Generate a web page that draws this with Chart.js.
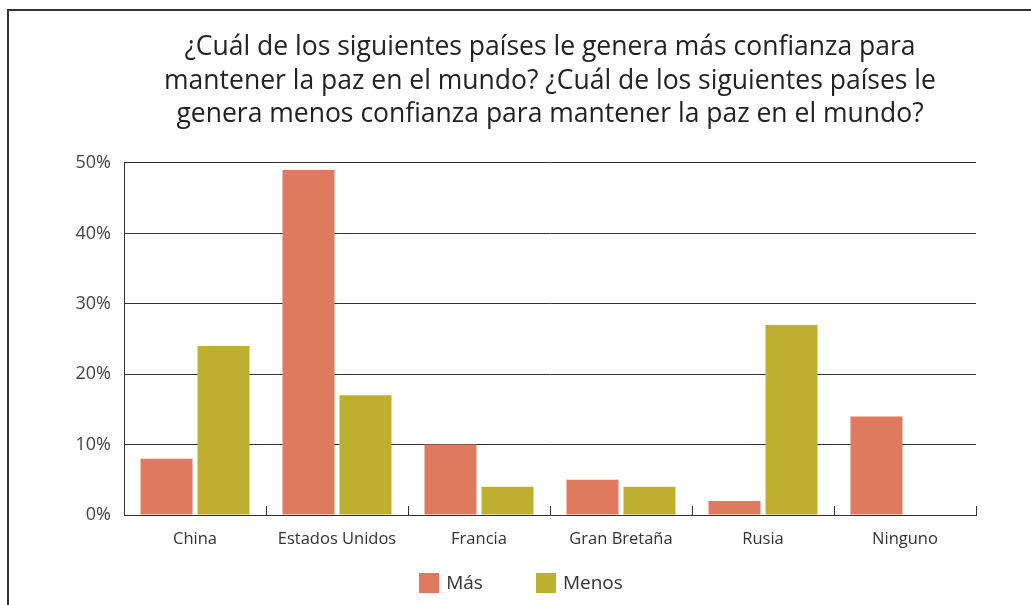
<!DOCTYPE html>
<html>
<head>
<meta charset="utf-8">
<script src="https://cdn.jsdelivr.net/npm/chart.js@4.4.1/dist/chart.umd.min.js"></script>
<style>
  html, body { margin: 0; padding: 0; background: #fff; }
  #wrap { position: relative; width: 1031px; height: 605px; }
  #frame { position: absolute; left: 7px; top: 9px; right: 0; bottom: 0; border-left: 2px solid #333; border-top: 2px solid #333; pointer-events: none; }
  canvas { position: absolute; left: 0; top: 0; }
</style>
</head>
<body>
<div id="wrap">
  <canvas id="c" width="1031" height="605"></canvas>
  <div id="frame"></div>
</div>
<script>
const titleLines = [
  "¿Cuál de los siguientes países le genera más confianza para",
  "mantener la paz en el mundo? ¿Cuál de los siguientes países le",
  "genera menos confianza para mantener la paz en el mundo?"
];
const categories = ["China", "Estados Unidos", "Francia", "Gran Bretaña", "Rusia", "Ninguno"];
const seriesNames = ["Más", "Menos"];
const masValues = [8, 49, 10, 5, 2, 14];
const menosValues = [24, 17, 4, 4, 27, 0];
const yTicks = [0, 10, 20, 30, 40, 50];
const colors = ["#DF7A5E", "#BFAF30"];
const FONT = "'Open Sans', 'Noto Sans', sans-serif";

const innerTicks = {
  id: 'innerTicks',
  afterDatasetsDraw(chart) {
    const xs = chart.scales.x, area = chart.chartArea, ctx = chart.ctx;
    const n = categories.length;
    const w = (area.right - area.left) / n;
    ctx.save();
    ctx.strokeStyle = '#333';
    ctx.lineWidth = 1;
    for (let i = 0; i <= n; i++) {
      const x = Math.round(xs.getPixelForValue(Math.min(i, n - 1)) + (i === n ? w / 2 : -w / 2)) + 0.5;
      ctx.beginPath();
      ctx.moveTo(x, area.bottom - 9);
      ctx.lineTo(x, area.bottom);
      ctx.stroke();
    }
    ctx.restore();
  }
};

const customLegend = {
  id: 'customLegend',
  afterDraw(chart) {
    const ctx = chart.ctx;
    ctx.save();
    ctx.font = "19px " + FONT;
    ctx.textBaseline = 'middle';
    ctx.textAlign = 'left';
    const box = 20, gapText = 7, gapItem = 53;
    const items = chart.data.datasets.map(d => ({ text: d.label, color: d.backgroundColor, w: box + gapText + ctx.measureText(d.label).width }));
    const total = items.reduce((s, it) => s + it.w, 0) + gapItem * (items.length - 1);
    let x = 521 - total / 2;
    const y = 583;
    items.forEach(it => {
      ctx.fillStyle = it.color;
      ctx.fillRect(Math.round(x), y - box / 2, box, box);
      ctx.fillStyle = '#333';
      ctx.fillText(it.text, x + box + gapText, y + 1);
      x += it.w + gapItem;
    });
    ctx.restore();
  }
};

new Chart(document.getElementById('c'), {
  type: 'bar',
  data: {
    labels: categories,
    datasets: [
      { label: seriesNames[0], data: masValues, backgroundColor: colors[0] },
      { label: seriesNames[1], data: menosValues, backgroundColor: colors[1] }
    ]
  },
  options: {
    responsive: false,
    animation: false,
    devicePixelRatio: 1,
    layout: { padding: { left: 0, right: 55, top: 0, bottom: 50 } },
    datasets: { bar: { categoryPercentage: 0.803, barPercentage: 0.912 } },
    plugins: {
      legend: { display: false },
      tooltip: { enabled: false },
      title: {
        display: true,
        fullSize: false,
        text: titleLines,
        color: '#222',
        font: { family: FONT, size: 26.5, weight: 'normal', lineHeight: 1.264 },
        padding: { top: 31, bottom: 31.5 }
      }
    },
    scales: {
      x: {
        grid: { display: true, drawOnChartArea: false, drawTicks: false },
        border: { display: true, color: '#333', width: 1 },
        ticks: { color: '#333', font: { family: FONT, size: 16.5 }, padding: 14, maxRotation: 0 },
        afterFit(s) { s.height = 40; }
      },
      y: {
        min: 0, max: 50,
        afterBuildTicks(s) { s.ticks = yTicks.map(v => ({ value: v })); },
        grid: { color: '#333', lineWidth: 1, drawTicks: false },
        border: { display: true, color: '#333', width: 1 },
        ticks: { color: '#444', font: { family: FONT, size: 18 }, padding: 13, callback: v => v + '%' },
        afterFit(s) { s.width = 124; }
      }
    }
  },
  plugins: [innerTicks, customLegend]
});
</script>
</body>
</html>
